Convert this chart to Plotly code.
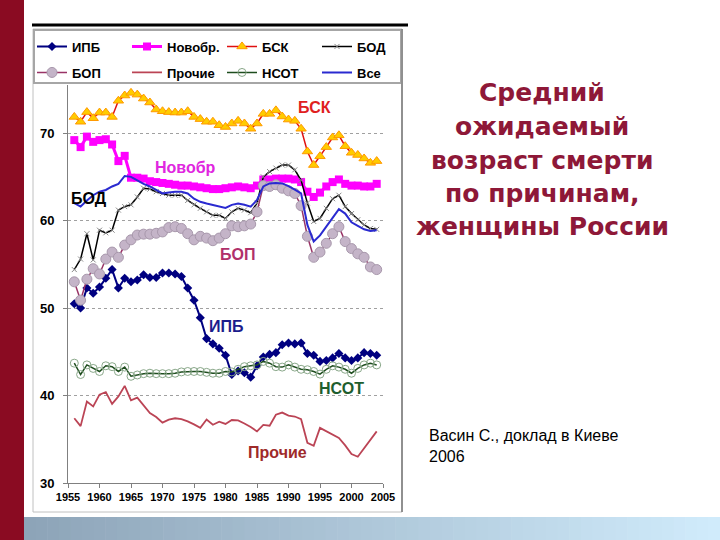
import plotly.graph_objects as go

# ---------------- data ----------------
years = list(range(1956, 2005))

ipb = [50.5, 50.0, 52.3, 51.7, 52.4, 53.4, 54.4, 52.3, 53.4, 53.0,
       53.2, 53.8, 53.5, 53.5, 54.0, 54.0, 53.9, 53.6, 52.3, 50.9,
       48.9, 46.5, 45.9, 45.4, 44.6, 42.4, 42.8, 42.6, 42.1, 43.4,
       44.4, 44.7, 44.9, 45.8, 46.0, 45.9, 46.0, 44.8, 44.6, 43.9,
       44.0, 44.3, 44.8, 44.3, 44.0, 44.3, 44.9, 44.8, 44.6]

novobr = [69.2, 68.4, 69.6, 69.0, 69.2, 69.3, 68.7, 66.8, 67.4, 64.9,
          64.9, 64.8, 64.5, 64.4, 64.3, 64.2, 64.1, 64.0, 64.0, 63.9,
          63.8, 63.7, 63.6, 63.6, 63.7, 63.8, 63.9, 63.8, 63.7, 64.0,
          64.7, 64.7, 64.8, 64.8, 64.8, 64.7, 64.4, 63.3, 62.7, 63.2,
          63.9, 64.4, 64.7, 64.2, 64.0, 64.0, 63.9, 63.9, 64.2]

bsk = [71.85, 71.3, 72.4, 71.7, 72.35, 72.35, 71.85, 73.7, 74.3, 74.6,
       74.4, 73.95, 73.5, 72.7, 72.5, 72.4, 72.35, 72.35, 72.5, 71.85,
       71.6, 71.3, 71.3, 70.9, 70.7, 71.1, 71.4, 71.1, 70.5, 71.1,
       72.2, 72.2, 72.6, 71.9, 71.55, 71.4, 70.5, 67.9, 66.35, 67.35,
       68.4, 69.5, 69.75, 68.5, 67.75, 67.5, 67.1, 66.6, 66.8]

bod = [54.4, 55.6, 58.5, 55.5, 58.9, 58.6, 58.9, 61.2, 61.6, 61.8,
       62.7, 63.7, 63.6, 63.3, 63.1, 62.9, 62.9, 62.9, 62.3, 61.8,
       61.4, 61.0, 60.6, 60.6, 60.25, 61.0, 61.4, 61.2, 60.9, 62.0,
       65.0, 65.6, 66.0, 66.35, 66.35, 65.8, 64.6, 62.0, 59.9, 60.25,
       61.4, 62.5, 62.9, 61.6, 60.8, 60.1, 59.5, 59.1, 59.0]

bop = [53.0, 50.9, 53.3, 54.5, 53.9, 55.6, 56.4, 55.8, 57.2, 57.8,
       58.35, 58.45, 58.45, 58.55, 58.7, 59.2, 59.3, 59.1, 58.5, 57.8,
       58.2, 58.0, 57.7, 58.0, 58.5, 59.4, 59.3, 59.4, 59.6, 61.0,
       64.0, 63.9, 64.1, 63.7, 63.4, 63.1, 61.7, 58.2, 55.8, 56.4,
       57.4, 58.5, 59.3, 57.6, 56.8, 56.2, 55.8, 54.7, 54.4]

prochie = [37.4, 36.5, 39.3, 38.75, 40.1, 40.4, 39.05, 39.9, 41.1, 39.45,
           39.75, 38.85, 38.0, 37.55, 36.9, 37.25, 37.4, 37.3, 37.05, 36.7,
           36.3, 37.25, 36.66, 37.0, 36.75, 37.2, 37.15, 36.8, 36.4, 35.9,
           36.65, 36.55, 37.8, 38.05, 37.7, 37.6, 37.3, 34.6, 34.25, 36.3,
           35.9, 35.5, 35.15, 34.3, 33.3, 33.0, 34.0, 34.9, 35.9]

nsot = [43.7, 42.4, 43.5, 43.1, 42.75, 43.4, 43.3, 42.75, 43.25, 42.2,
        42.35, 42.5, 42.55, 42.5, 42.5, 42.5, 42.55, 42.7, 42.75, 42.75,
        42.75, 42.65, 42.55, 42.55, 42.75, 42.7, 43.0, 43.3, 43.4, 43.5,
        43.9, 43.7, 43.3, 43.25, 43.5, 43.25, 43.0, 42.95, 42.75, 42.45,
        43.0, 43.4, 43.25, 43.0, 42.55, 43.1, 43.5, 43.7, 43.5]

vse = [62.0, 61.6, 62.3, 62.9, 63.3, 63.5, 63.9, 64.2, 65.1, 65.0,
       64.6, 64.2, 63.9, 63.5, 63.1, 63.2, 63.3, 63.3, 63.1, 62.5,
       62.15, 61.95, 61.8, 61.6, 61.45, 61.8, 61.95, 61.8, 61.6, 62.35,
       63.9, 64.25, 64.3, 64.25, 63.95, 63.55, 63.1, 59.5, 57.6, 58.3,
       59.3, 60.3, 61.3, 60.8, 59.8, 59.4, 59.0, 58.8, 58.9]

x_ticks = [1955, 1960, 1965, 1970, 1975, 1980, 1985, 1990, 1995, 2000, 2005]
y_ticks = [30, 40, 50, 60, 70]

title_lines = ["Средний", "ожидаемый", "возраст смерти", "по причинам,", "женщины России"]
source_text = "Васин С., доклад в Киеве<br>2006"

# in-chart labels: (text, year, value, colour)
labels = [
    ("БСК", 1994.1, 72.9, "#e0201e"),
    ("Новобр", 1973.6, 66.1, "#e026e0"),
    ("БОД", 1958.4, 62.5, "#000000"),
    ("БОП", 1981.9, 56.1, "#b0306a"),
    ("ИПБ", 1980.2, 47.9, "#1c1c8c"),
    ("НСОТ", 1998.4, 40.75, "#1e5e2e"),
    ("Прочие", 1988.3, 33.5, "#9e2a2a"),
]

# ---------------- geometry helpers ----------------
W, H = 720, 540
ML, MR, MT, MB = 68, 337, 85, 57
PW = W - ML - MR
PH = H - MT - MB


def px(xp):
    return (xp - ML) / PW


def py(yp):
    return (H - MB - yp) / PH


FONT = "Liberation Sans, Arial, sans-serif"

fig = go.Figure()

series = [
    ("ИПБ", ipb, dict(color="#000080", width=2),
     dict(symbol="diamond", size=7, color="#000080"), "legend"),
    ("Новобр.", novobr, dict(color="#ff00ff", width=3),
     dict(symbol="square", size=8, color="#ff00ff"), "legend"),
    ("БСК", bsk, dict(color="#e01010", width=1.5),
     dict(symbol="triangle-up", size=9, color="#ffcc00",
          line=dict(color="#ff9900", width=1)), "legend"),
    ("БОД", bod, dict(color="#000000", width=1.5),
     dict(symbol="x-thin", size=5, color="#888888",
          line=dict(color="#888888", width=1)), "legend"),
    ("БОП", bop, dict(color="#993366", width=1.5),
     dict(symbol="circle", size=10, color="#c4b4c8",
          line=dict(color="#a898ac", width=1)), "legend2"),
    ("Прочие", prochie, dict(color="#bb4455", width=1.8), None, "legend2"),
    ("НСОТ", nsot, dict(color="#1e4d1e", width=1.5),
     dict(symbol="circle-open", size=8, color="#8aa88a",
          line=dict(width=1)), "legend2"),
    ("Все", vse, dict(color="#2a2ad0", width=2), None, "legend2"),
]

for name, vals, line, marker, leg in series:
    kw = dict(x=years, y=vals, name="<b>" + name + "</b>", line=line, legend=leg)
    if marker is None:
        kw["mode"] = "lines"
    else:
        kw["mode"] = "lines+markers"
        kw["marker"] = marker
    fig.add_trace(go.Scatter(**kw))

shapes = []
# left dark red bar
shapes.append(dict(type="rect", xref="paper", yref="paper",
                   x0=px(0), x1=px(24), y0=py(H), y1=py(0),
                   fillcolor="#8a0b22", line=dict(width=0), layer="above"))
# bottom gradient bar
N = 60
c0 = (141, 164, 184)
c1 = (208, 235, 251)
x_start, x_end = 24, 720
for i in range(N):
    t = i / (N - 1)
    col = "rgb(%d,%d,%d)" % tuple(round(a + (b - a) * t) for a, b in zip(c0, c1))
    xa = x_start + (x_end - x_start) * i / N
    xb = x_start + (x_end - x_start) * (i + 1) / N + 0.6
    shapes.append(dict(type="rect", xref="paper", yref="paper",
                       x0=px(xa), x1=px(xb), y0=py(540), y1=py(517),
                       fillcolor=col, line=dict(width=0), layer="above"))
# top black rule
shapes.append(dict(type="line", xref="paper", yref="paper",
                   x0=px(32), x1=px(408), y0=py(25), y1=py(25),
                   line=dict(color="#000000", width=3)))
# picture frame
shapes.append(dict(type="rect", xref="paper", yref="paper",
                   x0=px(33), x1=px(402), y0=py(512), y1=py(29),
                   line=dict(color="#c0c0c0", width=1), layer="below"))
shapes.append(dict(type="line", xref="paper", yref="paper",
                   x0=px(402), x1=px(402), y0=py(512), y1=py(29),
                   line=dict(color="#909090", width=2)))
# legend box
shapes.append(dict(type="rect", xref="paper", yref="paper",
                   x0=px(34), x1=px(401), y0=py(83), y1=py(30),
                   line=dict(color="#a6a6a6", width=2), layer="below"))

annotations = []
title_y = [93, 126.5, 160, 193, 226.5]
for txt, yy in zip(title_lines, title_y):
    annotations.append(dict(text="<b>" + txt + "</b>", xref="paper", yref="paper",
                            x=px(542), y=py(yy), xanchor="center", yanchor="middle",
                            showarrow=False,
                            font=dict(family="DejaVu Sans, Verdana, sans-serif",
                                      size=25, color="#8e1838")))
annotations.append(dict(text=source_text, xref="paper", yref="paper",
                        x=px(427), y=py(446), xanchor="left", yanchor="middle",
                        align="left", showarrow=False,
                        font=dict(family=FONT, size=16, color="#000000")))
for txt, xv, yv, col in labels:
    annotations.append(dict(text="<b>" + txt + "</b>", xref="x", yref="y",
                            x=xv, y=yv, xanchor="center", yanchor="middle",
                            showarrow=False,
                            font=dict(family=FONT, size=16, color=col)))

legend_common = dict(orientation="h", xanchor="left", yanchor="top",
                     bgcolor="rgba(0,0,0,0)", borderwidth=0,
                     entrywidth=50, entrywidthmode="pixels",
                     font=dict(family=FONT, size=13, color="#000000"))

fig.update_layout(
    width=W, height=H, autosize=False,
    margin=dict(l=ML, r=MR, t=MT, b=MB, pad=0),
    paper_bgcolor="#ffffff", plot_bgcolor="#ffffff",
    showlegend=True,
    legend=dict(x=px(32), y=py(31.5), **legend_common),
    legend2=dict(x=px(32), y=py(57.5), **legend_common),
    shapes=shapes, annotations=annotations,
    xaxis=dict(range=[1955, 2005], tickvals=x_ticks, ticks="outside", ticklen=4,
               tickcolor="#808080", showline=True, linecolor="#808080", linewidth=1,
               showgrid=False, zeroline=False,
               tickfont=dict(family=FONT, size=11, color="#000000", weight="bold")),
    yaxis=dict(range=[30, 75.5], tickvals=y_ticks, ticks="outside", ticklen=4,
               tickcolor="#808080", showline=True, linecolor="#808080", linewidth=1,
               showgrid=True, gridcolor="#a0a0a0", griddash="dot", gridwidth=1,
               zeroline=False, ticklabelstandoff=6,
               tickfont=dict(family=FONT, size=13, color="#000000", weight="bold")),
)

fig.write_html("out.html")
